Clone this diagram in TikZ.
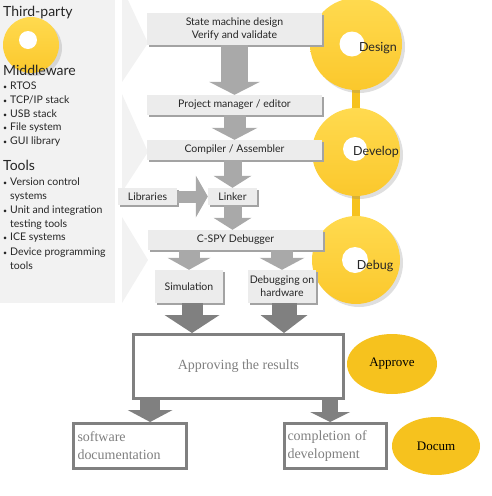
\documentclass[tikz,border=0pt]{standalone}
\usepackage{fontspec}
\setmainfont{Lato}
\newfontfamily\serifface{Liberation Serif}
\usetikzlibrary{shapes.geometric,arrows.meta,shadows,calc}

\definecolor{panelgray}{HTML}{F2F2F2}
\definecolor{boxgray}{HTML}{ECECEC}
\definecolor{shadegray}{HTML}{A3A3A3}
\definecolor{arrowgray}{HTML}{A9A9A9}
\definecolor{deepgray}{HTML}{808080}
\definecolor{goldtop}{HTML}{FFDA4F}
\definecolor{goldbot}{HTML}{FBC82C}
\definecolor{gold}{HTML}{F6C21E}

\newcommand\bul{\makebox[7pt][l]{\scriptsize\textbullet}}

\tikzset{
  heading/.style={anchor=west, inner sep=0pt, font=\fontsize{14}{16}\selectfont, text=black!85},
  item/.style={anchor=west, inner sep=0pt, align=left, font=\fontsize{10.5}{14}\selectfont, text=black!85},
  stepbox/.style={fill=boxgray, minimum width=175pt, minimum height=20pt, inner sep=1pt,
    align=center, font=\fontsize{10.5}{13}\selectfont, text=black!85,
    general shadow={fill=shadegray, shadow xshift=2pt, shadow yshift=-2pt}},
  phase/.style={circle, minimum size=#1, inner sep=0pt, top color=goldtop, bottom color=goldbot,
    drop shadow={shadow xshift=3pt, shadow yshift=-3pt, opacity=0.25}},
  hole/.style={circle, fill=white, minimum size=#1, inner sep=0pt},
  phasetext/.style={font=\fontsize{12.5}{14}\selectfont, text=black!85, inner sep=0pt},
  bar/.style={draw=gold, line width=8pt},
  fat/.style n args={4}{draw=#4, line width=#1, -{Triangle[width=#2, length=#3, line width=0pt]}},
  resultbox/.style={draw=deepgray, line width=3pt, fill=white, inner sep=3pt,
    font=\serifface\fontsize{14}{18}\selectfont, text=deepgray},
  stamp/.style={ellipse, fill=gold, minimum width=90pt, minimum height=60pt, inner sep=0pt,
    font=\serifface\fontsize{13}{15}\selectfont}
}

\begin{document}
\begin{tikzpicture}[x=1pt,y=-1pt]
\useasboundingbox (0,0) rectangle (492,496);

% left panel
\fill[panelgray] (0,0) rectangle (115,303);
\fill[panelgray] (122,0) -- (128,0) -- (148,43) -- (122,82) -- cycle;
\fill[panelgray] (122,94) -- (148,152) -- (122,192) -- cycle;
\fill[panelgray] (122,217) -- (148,260) -- (122,303) -- cycle;

\node[phase=56pt] (tpcircle) at (31,45) {};
\node[hole=18pt] at (28,40) {};

\node[heading] (thirdparty) at (3,13) {Third-party};
\node[heading] (middleware) at (3,70) {Middleware};
\foreach \t [count=\i] in {RTOS, TCP/IP stack, USB stack, File system, GUI library}
  \node[item] (mw\i) at (3,72+14*\i) {\bul\t};
\node[heading] (tools) at (3,165) {Tools};
\node[item] (tl1) at (3,189.5) {\bul Version control\\\hspace*{7pt}systems};
\node[item] (tl2) at (3,217.5) {\bul Unit and integration\\\hspace*{7pt}testing tools};
\node[item] (tl3) at (3,238) {\bul ICE systems};
\node[item] (tl4) at (3,259) {\bul Device programming\\\hspace*{7pt}tools};

% phase circles
\coordinate (c1) at (356,44);
\coordinate (c2) at (356,152);
\coordinate (c3) at (356,260);
\draw[bar] (c1) -- (c2);
\draw[bar] (c2) -- (c3);
\node[phase=92pt] (design) at (c1) {};
\node[phase=88pt] (develop) at (c2) {};
\node[phase=88pt] (debug) at (c3) {};
\node[hole=25pt] at (352,44) {};
\node[hole=24pt] at (355,149) {};
\node[hole=26pt] at (355,260) {};
\node[phasetext] (designtxt) at (378,48) {Design};
\node[phasetext] (developtxt) at (376,152) {Develop};
\node[phasetext] (debugtxt) at (375,266) {Debug};

% tool chain
\node[stepbox, minimum height=32pt] (state) at (234.5,29) {State machine design\\Verify and validate};
\node[stepbox] (project) at (234.5,105) {Project manager / editor};
\node[stepbox] (compiler) at (234.5,150) {Compiler / Assembler};
\node[stepbox, minimum width=59pt, minimum height=17pt] (libraries) at (147.5,196.5) {Libraries};
\node[stepbox, minimum width=49pt, minimum height=17pt] (linker) at (232.5,196.5) {Linker};
\node[stepbox] (cspy) at (235.5,240) {C-SPY Debugger};
\node[stepbox, minimum width=68pt, minimum height=33pt] (sim) at (189,286.5) {Simulation};
\node[stepbox, minimum width=68pt, minimum height=33pt] (hw) at (282,286.5) {Debugging on\\hardware};

\draw[fat={27pt}{51pt}{13pt}{arrowgray}] (state) -- (project);
\draw[fat={22pt}{46pt}{12pt}{arrowgray}] (project) -- (compiler);
\draw[fat={18pt}{38pt}{12pt}{arrowgray}] (compiler.south -| linker) -- (linker);
\draw[fat={12pt}{42pt}{12pt}{arrowgray}] (libraries) -- (linker);
\draw[fat={18pt}{38pt}{12pt}{arrowgray}] (linker) -- (cspy.north -| linker);
\draw[fat={21pt}{43pt}{12pt}{arrowgray}] (cspy.south -| sim) -- (sim);
\draw[fat={22pt}{45pt}{12pt}{arrowgray}] (cspy.south -| hw) -- (hw);

% results
\node[resultbox, minimum width=210pt, minimum height=64pt] (approve) at (238.5,366.5) {Approving the results};
\node[resultbox, minimum width=113pt, minimum height=45pt, text width=105pt, align=left] (softdoc) at (130,446) {software\\documentation};
\node[resultbox, minimum width=102pt, minimum height=45pt, text width=96pt, align=left] (complete) at (335.5,446) {completion of\\development};
\node[stamp] (approvetag) at (392,364) {Approve};
\node[stamp, minimum width=88pt, minimum height=58pt] (documtag) at (436,446) {Docum};

\draw[fat={21pt}{55pt}{18pt}{deepgray}] (sim.south -| 192,0) -- (approve.north -| 192,0);
\draw[fat={25pt}{47pt}{18pt}{deepgray}] (hw.south -| 284,0) -- (approve.north -| 284,0);
\coordinate (outl) at ($(approve.south west)!0.085!(approve.south east)$);
\coordinate (outr) at ($(approve.south west)!0.93!(approve.south east)$);
\draw[fat={20pt}{45pt}{12pt}{deepgray}] (outl) -- (outl |- softdoc.north);
\draw[fat={16pt}{40pt}{10pt}{deepgray}] (outr) -- (outr |- complete.north);
\end{tikzpicture}
\end{document}
